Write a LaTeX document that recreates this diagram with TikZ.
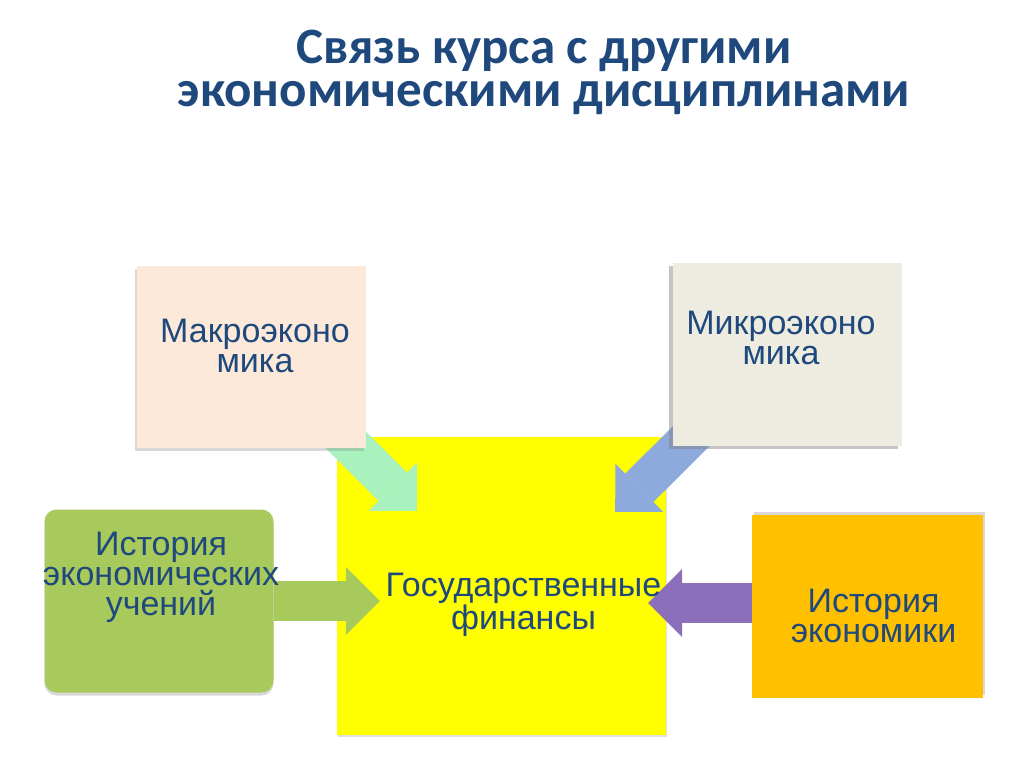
\documentclass[tikz,border=0pt]{standalone}
\usepackage{fontspec}
\setmainfont{Liberation Sans}
\newfontfamily\titlefont{Carlito}
\usetikzlibrary{arrows.meta,positioning,calc,shadows}
\definecolor{txtblue}{HTML}{1F497D}
\definecolor{macrofill}{HTML}{FDE9D9}
\definecolor{microfill}{HTML}{EEECE1}
\definecolor{histfill}{HTML}{A8C95B}
\definecolor{histecfill}{HTML}{FFC000}
\definecolor{finfill}{HTML}{FFFF00}
\definecolor{arrmint}{HTML}{A9F2BE}
\definecolor{arrblue}{HTML}{8EA9DB}
\definecolor{arrpurple}{HTML}{8B6FBA}
\pgfdeclarelayer{bottom}
\pgfdeclarelayer{arrowlayer}
\pgfsetlayers{bottom,arrowlayer,main}

\begin{document}
\begin{tikzpicture}[x=1pt, y=-1pt,
    box/.style={rectangle, fill=#1, minimum width=229pt, minimum height=182pt, inner sep=0pt},
    txt/.style={text=txtblue, font=\fontsize{34}{30}\selectfont, align=center, inner sep=0pt},
    barr/.style={line width=40pt, draw=#1, -{Triangle[length=34pt, width=68pt, line width=0pt]}}
]
\useasboundingbox (0,0) rectangle (1024,767);

\node[text=txtblue, font=\titlefont\bfseries\fontsize{51}{43}\selectfont, align=center] (title) at (544,72)
    {Связь курса с другими\\экономическими дисциплинами};

\begin{pgfonlayer}{bottom}
\fill[white] (0,0) rectangle (1024,767);
\node[box=finfill, minimum width=329pt, minimum height=298pt, drop shadow={shadow xshift=1pt, shadow yshift=-2pt, opacity=.25}] (fin) at (501.5,586) {};
\end{pgfonlayer}

\node[box=macrofill, drop shadow={shadow xshift=-2pt, shadow yshift=-3pt, opacity=.3}] (macro) at (251,356.5) {};
\node[box=microfill, minimum height=183pt, drop shadow={shadow xshift=-4pt, shadow yshift=-3pt, opacity=.45}] (micro) at (787,354.5) {};
\node[box=histfill, rounded corners=12pt, minimum height=183pt, drop shadow={shadow xshift=0pt, shadow yshift=-3pt, opacity=.3}] (hist) at (159,601) {};
\node[box=histecfill, minimum width=231pt, minimum height=183pt, drop shadow={shadow xshift=2pt, shadow yshift=3pt, opacity=.3}] (histec) at (867.5,606.5) {};

\coordinate (t1) at ($(fin.north west)+(80,74)$);
\coordinate (t2) at ($(fin.north east)+(-51,75)$);
\coordinate (t3) at ($(fin.west)+(43,15)$);
\coordinate (t4) at ($(fin.east)+(-18,17)$);

\begin{pgfonlayer}{arrowlayer}
\draw[barr=arrmint] ($(macro.south east)+(-30,-18)$) -- (t1);
\draw[barr=arrblue] ($(micro.south west)+(30,-21)$) -- (t2);
\draw[barr=histfill] (hist.east |- t3) -- (t3);
\draw[barr=arrpurple] (histec.west |- t4) -- (t4);
\end{pgfonlayer}

\node[txt] (macrot) at ($(macro.center)+(4,-11)$) {Макроэконо\\мика};
\node[txt] (microt) at ($(micro.center)+(-6,-17)$) {Микроэконо\\мика};
\node[txt] (histt) at ($(hist.center)+(2,-24)$) {История\\экономических\\учений};
\node[txt] (histect) at ($(histec.center)+(6,9)$) {История\\экономики};
\node[txt] (fint) at ($(fin.center)+(22,19)$) {Государственные\\финансы};
\end{tikzpicture}
\end{document}
